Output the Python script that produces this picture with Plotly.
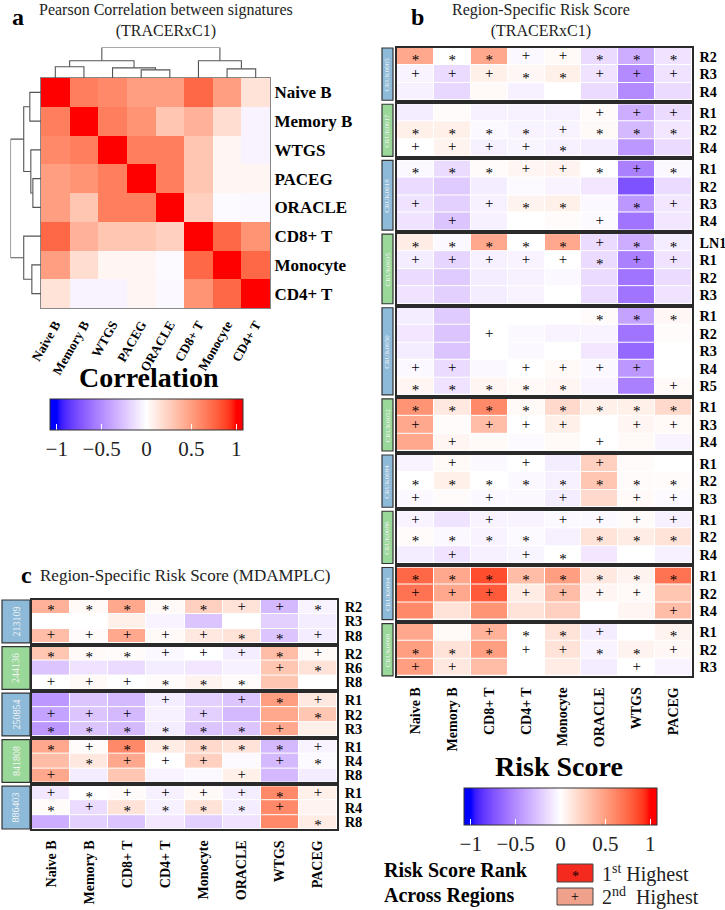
import plotly.graph_objects as go

W, H = 725, 910
SERIF = "Liberation Serif, Times New Roman, serif"

# ---------------- data ----------------
a_labels = ["Naive B", "Memory B", "WTGS", "PACEG", "ORACLE", "CD8+ T", "Monocyte", "CD4+ T"]
a_corr = [
    [1.00, 0.65, 0.60, 0.50, 0.50, 0.75, 0.50, 0.15],
    [0.65, 1.00, 0.65, 0.55, 0.30, 0.40, 0.18, -0.05],
    [0.60, 0.65, 1.00, 0.65, 0.65, 0.30, 0.05, -0.05],
    [0.50, 0.55, 0.65, 1.00, 0.65, 0.30, 0.05, 0.05],
    [0.50, 0.30, 0.65, 0.65, 1.00, 0.25, -0.02, -0.03],
    [0.75, 0.40, 0.30, 0.30, 0.25, 1.00, 0.75, 0.55],
    [0.50, 0.18, 0.05, 0.05, -0.02, 0.75, 1.00, 0.75],
    [0.15, -0.05, -0.05, 0.05, -0.03, 0.55, 0.75, 1.00],
]
# hierarchical merges: (left, right, height); ints refer to earlier merges
a_merges = [("PACEG", "ORACLE", 8), ("Monocyte", "CD4+ T", 9), ("WTGS", 0, 10),
            ("Naive B", "Memory B", 11), (3, 2, 17), ("CD8+ T", 1, 17), (4, 5, 30)]

sig_columns = ["Naive B", "Memory B", "CD8+ T", "CD4+ T", "Monocyte", "ORACLE", "WTGS", "PACEG"]

b_patients = ["CRUK0005", "CRUK0017", "CRUK0018", "CRUK0035", "CRUK0050",
              "CRUK0052", "CRUK0084", "CRUK0086", "CRUK0094", "CRUK0098"]
b_regions = [["R2", "R3", "R4"], ["R1", "R2", "R4"], ["R1", "R2", "R3", "R4"],
             ["LN1", "R1", "R2", "R3"], ["R1", "R2", "R3", "R4", "R5"],
             ["R1", "R3", "R4"], ["R1", "R2", "R3"], ["R1", "R2", "R4"],
             ["R1", "R2", "R4"], ["R1", "R2", "R3"]]
b_scores = [
    [[0.45, 0.00, 0.45, -0.03, 0.03, -0.15, -0.35, -0.12],
     [-0.05, -0.15, 0.08, 0.04, 0.08, -0.12, -0.50, -0.12],
     [-0.06, -0.17, 0.03, -0.06, 0.00, -0.15, -0.50, -0.15]],
    [[-0.08, 0.02, -0.06, -0.06, -0.06, 0.02, -0.35, -0.15],
     [0.08, 0.08, -0.03, -0.05, -0.05, 0.03, -0.30, -0.10],
     [0.00, 0.06, -0.06, -0.04, -0.06, -0.08, -0.45, -0.15]],
    [[-0.03, -0.15, 0.02, 0.05, 0.06, 0.00, -0.55, -0.03],
     [-0.15, -0.22, -0.08, -0.02, -0.05, -0.10, -0.75, -0.15],
     [-0.12, -0.20, -0.06, 0.06, 0.08, -0.03, -0.45, -0.10],
     [-0.12, -0.25, -0.06, 0.00, 0.02, -0.02, -0.60, -0.10]],
    [[0.10, -0.03, 0.45, 0.00, 0.45, -0.15, -0.35, -0.08],
     [-0.08, -0.18, -0.06, -0.05, 0.00, -0.15, -0.55, -0.12],
     [-0.15, -0.22, -0.08, -0.06, -0.03, -0.15, -0.60, -0.15],
     [-0.12, -0.20, -0.08, -0.05, 0.00, -0.15, -0.60, -0.12]],
    [[-0.08, -0.22, 0.00, 0.00, 0.00, 0.02, -0.40, 0.04],
     [-0.10, -0.25, 0.00, -0.03, -0.05, -0.05, -0.60, 0.02],
     [-0.08, -0.25, 0.00, -0.03, 0.00, -0.10, -0.65, 0.00],
     [-0.03, -0.15, -0.03, 0.00, 0.03, -0.03, -0.45, 0.00],
     [0.05, -0.12, 0.05, 0.03, 0.05, -0.05, -0.55, 0.03]],
    [[0.55, 0.12, 0.60, 0.03, 0.20, 0.08, 0.08, 0.20],
     [0.45, 0.02, 0.35, 0.00, 0.08, 0.00, 0.05, 0.03],
     [0.45, 0.05, 0.03, -0.02, 0.03, 0.00, 0.03, -0.05]],
    [[-0.05, 0.03, -0.03, 0.00, -0.08, 0.25, 0.02, 0.00],
     [0.00, 0.08, 0.00, -0.03, -0.06, 0.30, 0.02, 0.02],
     [-0.03, 0.02, -0.03, -0.03, -0.08, 0.20, 0.03, -0.02]],
    [[-0.05, -0.12, -0.05, -0.05, -0.03, -0.03, 0.02, -0.06],
     [0.02, -0.03, -0.05, -0.02, -0.06, 0.15, 0.10, 0.15],
     [-0.08, -0.12, -0.06, -0.04, 0.00, -0.10, 0.00, -0.06]],
    [[0.75, 0.45, 0.85, 0.35, 0.50, 0.12, 0.06, 0.70],
     [0.70, 0.45, 0.80, 0.10, 0.35, 0.05, 0.03, 0.30],
     [0.60, 0.15, 0.55, 0.15, 0.25, 0.00, 0.05, 0.35]],
    [[0.45, 0.03, 0.40, 0.00, 0.15, -0.08, 0.00, 0.06],
     [0.50, 0.15, 0.50, 0.00, 0.15, -0.05, 0.06, 0.04],
     [0.50, 0.12, 0.35, 0.00, 0.10, -0.08, 0.00, -0.05]],
]
# rank marks per row: '*' = 1st highest, '+' = 2nd highest, '.' = none
b_ranks = [
    ["***++***", "+++**+++", "........"],
    [".....+++", "****+***", "++++*..."],
    ["***++*+*", "........", "+.+**.*+", ".+...+.."],
    ["*****+**", "+++++*++", "........", "........"],
    [".....***", "..+.....", "........", "++.++++.", "*****..+"],
    ["********", "+.+++.++", ".+...+.."],
    [".+.+.+..", "********", "+.+.+.++"],
    ["+.+.++++", "****.***", ".+.+*..."],
    ["********", "+++++++.", ".......+"],
    ["..+**+.*", "***++**+", "++....+."],
]

c_patients = ["213109", "244136", "250854", "841808", "886403"]
c_regions = [["R2", "R3", "R8"], ["R2", "R6", "R8"], ["R1", "R2", "R3"],
             ["R1", "R4", "R8"], ["R1", "R4", "R8"]]
c_scores = [
    [[0.40, 0.03, 0.45, 0.03, 0.25, 0.15, -0.30, -0.05],
     [0.00, 0.00, 0.08, -0.05, -0.25, 0.00, -0.20, -0.08],
     [0.35, 0.02, 0.45, 0.03, 0.12, 0.15, -0.25, -0.08]],
    [[0.30, 0.03, 0.02, -0.03, 0.00, -0.08, 0.35, 0.03],
     [-0.25, -0.12, -0.15, -0.08, -0.10, -0.06, 0.30, 0.15],
     [0.00, 0.03, 0.00, 0.02, 0.06, 0.02, 0.30, 0.00]],
    [[-0.45, -0.25, -0.30, -0.08, -0.20, -0.25, 0.50, 0.12],
     [-0.40, -0.25, -0.30, -0.06, -0.20, -0.30, 0.45, 0.30],
     [-0.45, -0.25, -0.30, -0.08, -0.25, -0.25, 0.45, 0.08]],
    [[0.45, 0.02, 0.60, 0.10, 0.20, 0.15, -0.30, -0.05],
     [0.35, 0.12, 0.45, 0.00, 0.25, -0.02, -0.30, -0.02],
     [0.45, -0.08, 0.30, -0.05, -0.03, 0.08, -0.30, -0.08]],
    [[-0.10, 0.00, 0.02, -0.06, 0.03, -0.08, 0.60, 0.08],
     [0.02, -0.15, 0.15, -0.06, 0.15, -0.08, 0.60, 0.06],
     [-0.35, -0.20, -0.25, -0.10, -0.20, -0.12, 0.60, 0.10]],
]
c_ranks = [
    ["*****++*", "........", "+++++**+"],
    ["***+++*+", "......+*", "+++***.."],
    ["...+.+*+", "+++.+..*", "******+."],
    ["*+*****+", ".*+++.+*", "+....+.."],
    ["+*++++*+", "*+****+.", ".......*"],
]

color_ticks = [-1, -0.5, 0, 0.5, 1]
color_ticktext = ["\u22121", "\u22120.5", "0", "0.5", "1"]

# ---------------- colour scale (LAB interpolation blue-white-red) ----------------
def _lin(c):
    c = c / 255.0
    return c / 12.92 if c <= 0.04045 else ((c + 0.055) / 1.055) ** 2.4

def _gam(c):
    c = 12.92 * c if c <= 0.0031308 else 1.055 * c ** (1 / 2.4) - 0.055
    return max(0, min(255, round(c * 255)))

def to_lab(rgb):
    r, g, b = (_lin(v) for v in rgb)
    X = (0.4124 * r + 0.3576 * g + 0.1805 * b) / 0.95047
    Y = (0.2126 * r + 0.7152 * g + 0.0722 * b)
    Z = (0.0193 * r + 0.1192 * g + 0.9505 * b) / 1.08883
    f = lambda t: t ** (1 / 3) if t > 0.008856 else 7.787 * t + 16 / 116
    return (116 * f(Y) - 16, 500 * (f(X) - f(Y)), 200 * (f(Y) - f(Z)))

def to_rgb(lab):
    L, a, b = lab
    fy = (L + 16) / 116
    fx, fz = fy + a / 500, fy - b / 200
    fi = lambda t: t ** 3 if t ** 3 > 0.008856 else (t - 16 / 116) / 7.787
    X, Y, Z = 0.95047 * fi(fx), fi(fy), 1.08883 * fi(fz)
    r = 3.2406 * X - 1.5372 * Y - 0.4986 * Z
    g = -0.9689 * X + 1.8758 * Y + 0.0415 * Z
    bb = 0.0557 * X - 0.2040 * Y + 1.0570 * Z
    return "rgb(%d,%d,%d)" % (_gam(max(r, 0)), _gam(max(g, 0)), _gam(max(bb, 0)))

ZLO, ZHI = -1.075, 1.075
LB, LW, LR = to_lab((0, 0, 255)), to_lab((255, 255, 255)), to_lab((255, 0, 0))
cscale = [[0.0, to_rgb(LB)]]
N = 40
for i in range(N + 1):
    v = -1 + 2 * i / N
    if v <= 0:
        t = v + 1
        lab = tuple(LB[k] + (LW[k] - LB[k]) * t for k in range(3))
    else:
        lab = tuple(LW[k] + (LR[k] - LW[k]) * v for k in range(3))
    cscale.append([(v - ZLO) / (ZHI - ZLO), to_rgb(lab)])
cscale.append([1.0, to_rgb(LR)])

# ---------------- helpers ----------------
def px(x):
    return x / W

def py(y):
    return 1 - y / H

def axn(k):
    return "" if k == 1 else str(k)

layout_axes = {}
traces = []
shapes = []
annotations = []

def cbar(xc, ytop, thick):
    return dict(orientation="h", x=px(xc), xanchor="center", y=py(ytop), yanchor="top",
                len=193, lenmode="pixels", thickness=thick, xpad=0, ypad=0,
                outlinewidth=1, outlinecolor="#333",
                tickvals=color_ticks, ticktext=color_ticktext,
                ticks="inside", tickcolor="white", ticklen=6, tickwidth=1,
                tickfont=dict(family=SERIF, size=21, color="#222"))

# ---------------- panel a ----------------
ax_x0, ax_x1, ay_y0, ay_y1 = 41, 270, 78, 308
traces.append(go.Heatmap(z=a_corr, x=a_labels, y=a_labels, xaxis="x", yaxis="y",
                         colorscale=cscale, zmin=ZLO, zmax=ZHI, showscale=True,
                         colorbar=cbar(146.5, 399, 31), hoverinfo="skip"))
layout_axes["xaxis"] = dict(domain=[px(ax_x0), px(ax_x1)], anchor="y", type="category",
                            categoryorder="array", categoryarray=a_labels, range=[-0.5, 7.5],
                            tickmode="array", tickvals=a_labels, ticktext=a_labels,
                            tickangle=-60, ticks="", ticklabelstandoff=3,
                            tickfont=dict(family=SERIF, size=13, weight="bold"),
                            showline=True, mirror=True, linecolor="#888", linewidth=1,
                            showgrid=False, zeroline=False)
layout_axes["yaxis"] = dict(domain=[py(ay_y1), py(ay_y0)], anchor="x", type="category",
                            categoryorder="array", categoryarray=a_labels, range=[7.5, -0.5],
                            tickmode="array", tickvals=a_labels, ticktext=a_labels,
                            side="right", ticks="", ticklabelstandoff=0,
                            tickfont=dict(family=SERIF, size=17, weight="bold"),
                            showline=True, mirror=True, linecolor="#888", linewidth=1,
                            showgrid=False, zeroline=False)

def dendro(labels, merges):
    pos, hgt = {}, {}
    for i, l in enumerate(labels):
        pos[l], hgt[l] = i, 0
    xs, ys = [], []
    for k, (l, r, h) in enumerate(merges):
        xl, xr, hl, hr = pos[l], pos[r], hgt[l], hgt[r]
        xs += [xl, xl, xr, xr, None]
        ys += [hl, h, h, hr, None]
        pos[k], hgt[k] = (xl + xr) / 2, h
    return xs, ys

dxs, dys = dendro(a_labels, a_merges)
dline = dict(color="#555", width=1.1)
traces.append(go.Scatter(x=dxs, y=dys, mode="lines", line=dline, xaxis="x2", yaxis="y2",
                         hoverinfo="skip", cliponaxis=False))
traces.append(go.Scatter(x=dys, y=dxs, mode="lines", line=dline, xaxis="x3", yaxis="y3",
                         hoverinfo="skip", cliponaxis=False))
hidden = dict(showticklabels=False, ticks="", showgrid=False, zeroline=False, showline=False)
layout_axes["xaxis2"] = dict(domain=[px(ax_x0), px(ax_x1)], anchor="y2", range=[-0.5, 7.5], **hidden)
layout_axes["yaxis2"] = dict(domain=[py(ay_y0), py(47.5)], anchor="x2", range=[0, 30], **hidden)
layout_axes["xaxis3"] = dict(domain=[px(10.5), px(ax_x0)], anchor="y3", range=[30, 0], **hidden)
layout_axes["yaxis3"] = dict(domain=[py(ay_y1), py(ay_y0)], anchor="x3", range=[7.5, -0.5], **hidden)

# ---------------- region heatmaps (panels b and c) ----------------
STRIP_COLORS = ["#8EBAD9", "#9AD89A"]
star_axis = [40]

def region_panel(k0, patients, regions, scores, ranks, x0, x1, top, row_h, gap,
                 strip_x0, strip_x1, strip_font, row_font, sym_font, star_shift, show_cbar):
    y = top
    k = k0
    for gi, pat in enumerate(patients):
        n = len(regions[gi])
        y_end = y + n * row_h
        xa, ya = "x" + axn(k), "y" + axn(k)
        ys_id = star_axis[0]
        star_axis[0] += 1
        tr = go.Heatmap(z=scores[gi], x=sig_columns, y=regions[gi],
                        xaxis=xa, yaxis=ya, xgap=1, ygap=1,
                        colorscale=cscale, zmin=ZLO, zmax=ZHI, hoverinfo="skip",
                        showscale=(show_cbar and gi == 0))
        if show_cbar and gi == 0:
            tr.colorbar = cbar(560.5, 788, 37)
        traces.append(tr)
        # rank marks
        for sym in ("*", "+"):
            sx, sy = [], []
            for ri, row in enumerate(ranks[gi]):
                for ci, ch in enumerate(row):
                    if ch == sym:
                        sx.append(sig_columns[ci])
                        sy.append(regions[gi][ri])
            traces.append(go.Scatter(x=sx, y=sy, text=[sym] * len(sx), mode="text",
                                     textposition="middle center",
                                     textfont=dict(family=SERIF, size=sym_font, color="black"),
                                     xaxis=xa, yaxis=("y%d" % ys_id) if sym == "*" else ya,
                                     hoverinfo="skip", cliponaxis=False))
        last = gi == len(patients) - 1
        layout_axes["xaxis" + axn(k)] = dict(
            domain=[px(x0), px(x1)], anchor=ya, type="category",
            categoryorder="array", categoryarray=sig_columns, range=[-0.5, 7.5],
            tickmode="array", tickvals=sig_columns, ticktext=sig_columns,
            showticklabels=last, tickangle=-90, ticks="", ticklabelstandoff=4,
            tickfont=dict(family=SERIF, size=14, weight="bold"),
            showline=True, mirror=True, linecolor="#2a2a2a", linewidth=1.5,
            showgrid=False, zeroline=False)
        layout_axes["yaxis" + axn(k)] = dict(
            domain=[py(y_end), py(y)], anchor=xa, type="category",
            categoryorder="array", categoryarray=regions[gi], range=[n - 0.5, -0.5],
            tickmode="array", tickvals=regions[gi], ticktext=regions[gi],
            side="right", ticks="", ticklabelstandoff=3,
            tickfont=dict(family=SERIF, size=row_font, weight="bold"),
            showline=True, mirror=True, linecolor="#2a2a2a", linewidth=1.5,
            showgrid=False, zeroline=False)
        d = star_shift / row_h
        layout_axes["yaxis%d" % ys_id] = dict(
            overlaying=ya, anchor=xa, type="category", visible=False,
            categoryorder="array", categoryarray=regions[gi],
            range=[n - 0.5 - d, -0.5 - d], showgrid=False, zeroline=False)
        shapes.append(dict(type="rect", xref="paper", yref=ya + " domain",
                           x0=px(strip_x0), x1=px(strip_x1), y0=0, y1=1,
                           fillcolor=STRIP_COLORS[gi % 2], line=dict(color="#333", width=1.2),
                           layer="above"))
        annotations.append(dict(text=pat, xref="paper", yref=ya + " domain",
                                x=px((strip_x0 + strip_x1) / 2), y=0.5, textangle=-90,
                                showarrow=False, xanchor="center", yanchor="middle",
                                font=dict(family=SERIF, size=strip_font, color="#F4F4F4")))
        y = y_end + gap
        k += 1
    return k

k_next = region_panel(4, b_patients, b_regions, b_scores, b_ranks, 397, 692, 48, 17.41, 4,
                      382, 393, 7, 14.2, 15, 5.0, True)
region_panel(k_next, c_patients, c_regions, c_scores, c_ranks, 32, 337, 600, 14.28, 3.7,
             2, 30, 10, 14.5, 15, 4.5, False)

# ---------------- titles and legend ----------------
def ann(text, x, y, size, bold=False, xanchor="center", yanchor="middle", color="black"):
    annotations.append(dict(text=text, xref="paper", yref="paper", x=px(x), y=py(y),
                            showarrow=False, xanchor=xanchor, yanchor=yanchor,
                            font=dict(family=SERIF, size=size, color=color,
                                      weight="bold" if bold else "normal")))

ann("a", 18, 17, 24, True)
ann("Pearson Correlation between signatures<br>(TRACERxC1)", 166, 20, 16, color="#222")
ann("b", 417, 17, 24, True)
ann("Region-Specific Risk Score<br>(TRACERxC1)", 541, 20, 16, color="#222")
ann("c", 26, 575, 24, True)
ann("Region-Specific Risk Score (MDAMPLC)", 185, 575, 17, color="#222")
ann("Correlation", 149, 377, 28, True)
ann("Risk Score", 559, 766, 28, True)
ann("Risk Score Rank", 382, 870, 20, True, xanchor="left")
ann("Across Regions", 382, 895, 20, True, xanchor="left")

legend_marks = [("*", "#F52A1F", 864, 882, "1<sup>st</sup> Highest"),
                ("+", "#EFA18C", 888, 905, "2<sup>nd</sup>  Highest")]
for sym, col, y0, y1, lab in legend_marks:
    shapes.append(dict(type="rect", xref="paper", yref="paper", x0=px(557), x1=px(593),
                       y0=py(y1), y1=py(y0), fillcolor=col, line=dict(color="#444", width=1)))
    ann(sym, 575, (y0 + y1) / 2 + (3 if sym == "*" else 0), 14)
    ann(lab, 600, (y0 + y1) / 2, 20, xanchor="left", color="#222")

fig = go.Figure(data=traces)
fig.update_layout(width=W, height=H, margin=dict(l=0, r=0, t=0, b=0, autoexpand=False),
                  paper_bgcolor="white", plot_bgcolor="white", showlegend=False,
                  font=dict(family=SERIF, color="black"),
                  shapes=shapes, annotations=annotations, **layout_axes)
fig.write_html("out.html", config={"displayModeBar": False},
               post_script="document.body.style.margin='0';document.body.style.overflow='hidden';")
